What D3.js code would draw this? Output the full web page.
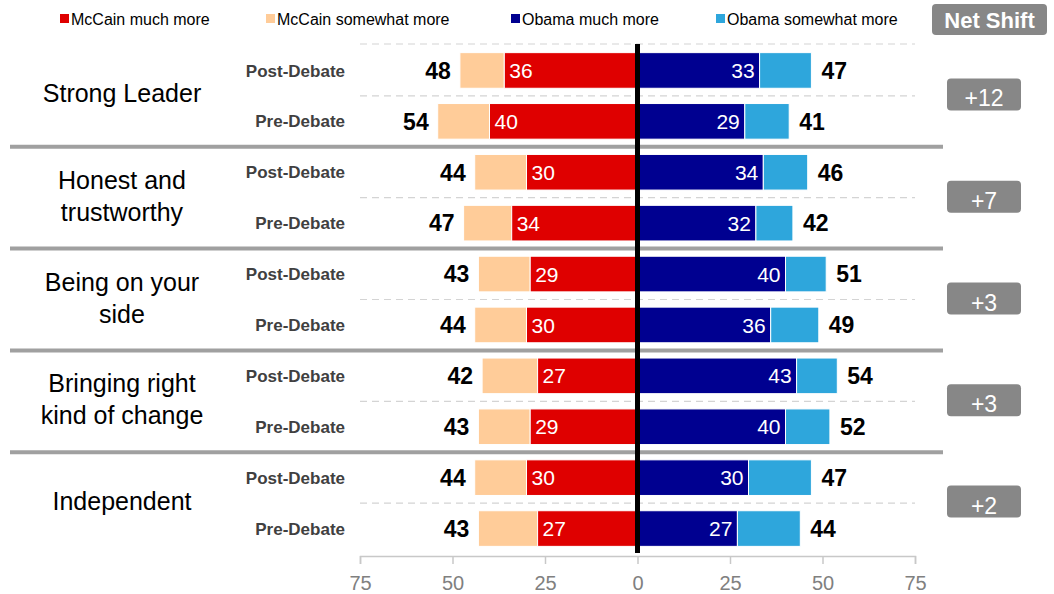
<!DOCTYPE html>
<html>
<head>
<meta charset="utf-8">
<script src="https://cdn.jsdelivr.net/npm/d3@7"></script>
<style>
    body { margin: 0; background: #fff; }
    svg { display: block; font-family: "Liberation Sans", Arial, sans-serif; }
</style>
</head>
<body>
<div id="container"></div>
<script>
// chart data
const categories = [
    ['Strong Leader'],
    ['Honest and', 'trustworthy'],
    ['Being on your', 'side'],
    ['Bringing right', 'kind of change'],
    ['Independent']
];
const periods = ['Post-Debate', 'Pre-Debate'];
const mccainMuch = [[36, 40], [30, 34], [29, 30], [27, 29], [30, 27]];
const mccainTotal = [[48, 54], [44, 47], [43, 44], [42, 43], [44, 43]];
const obamaMuch = [[33, 29], [34, 32], [40, 36], [43, 40], [30, 27]];
const obamaTotal = [[47, 41], [46, 42], [51, 49], [54, 52], [47, 44]];
const netShift = ['+12', '+7', '+3', '+3', '+2'];
const tickValues = [-75, -50, -25, 0, 25, 50, 75];
const legendLabels = ['McCain much more', 'McCain somewhat more', 'Obama much more', 'Obama somewhat more'];

const colors = {
    mccainMuch: '#df0000',
    mccainSome: '#ffcc99',
    obamaMuch: '#000090',
    obamaSome: '#2ea6dc'
};
const legendColors = [colors.mccainMuch, colors.mccainSome, colors.obamaMuch, colors.obamaSome];

const width = 1054;
const height = 594;

const svg = d3.select('#container').append('svg')
    .attr('width', width)
    .attr('height', height);

// flatten the rows
const rows = [];
categories.forEach((c, g) => {
    periods.forEach((p, j) => {
        rows.push({
            key: g + '-' + j,
            group: g,
            period: p,
            mMuch: mccainMuch[g][j],
            mTotal: mccainTotal[g][j],
            oMuch: obamaMuch[g][j],
            oTotal: obamaTotal[g][j]
        });
    });
});

const x = d3.scaleLinear().domain([-75, 75]).range([360, 915]);
const y = d3.scaleBand()
    .domain(rows.map(d => d.key))
    .range([45, 554])
    .paddingInner(0.3)
    .paddingOuter(0.15);
const bw = y.bandwidth();

// group boundaries
function groupTop(g) {
    return g === 0 ? 44 : (y((g - 1) + '-1') + bw + y(g + '-0')) / 2;
}
function groupBottom(g) {
    return g === categories.length - 1 ? 553 : groupTop(g + 1);
}

// dashed guides (top + between post / pre)
const dashY = [44].concat(categories.map((c, g) => (y(g + '-0') + bw + y(g + '-1')) / 2));
svg.append('g')
    .selectAll('line')
    .data(dashY)
    .enter().append('line')
    .attr('x1', x(-75))
    .attr('x2', x(75))
    .attr('y1', d => d)
    .attr('y2', d => d)
    .attr('stroke', '#d4d4d4')
    .attr('stroke-width', 1.2)
    .attr('stroke-dasharray', '7,5');

// thick separators
svg.append('g')
    .selectAll('line')
    .data(d3.range(1, categories.length))
    .enter().append('line')
    .attr('x1', 10)
    .attr('x2', 943)
    .attr('y1', g => groupTop(g))
    .attr('y2', g => groupTop(g))
    .attr('stroke', '#a0a0a0')
    .attr('stroke-width', 4);

// bars
const bars = svg.append('g');
function addBars(cls, x0, x1, fill) {
    bars.selectAll('rect.' + cls)
        .data(rows)
        .enter().append('rect')
        .attr('class', cls)
        .attr('x', d => Math.min(x(x0(d)), x(x1(d))))
        .attr('width', d => Math.abs(x(x1(d)) - x(x0(d))))
        .attr('y', d => y(d.key))
        .attr('height', bw)
        .attr('fill', fill)
        .attr('stroke', '#fff')
        .attr('stroke-width', 1);
}
addBars('ms', d => -d.mTotal, d => -d.mMuch, colors.mccainSome);
addBars('mm', d => -d.mMuch, d => 0, colors.mccainMuch);
addBars('om', d => 0, d => d.oMuch, colors.obamaMuch);
addBars('os', d => d.oMuch, d => d.oTotal, colors.obamaSome);

// values inside bars
const labels = svg.append('g').attr('font-size', 21);
labels.selectAll('text.mm')
    .data(rows)
    .enter().append('text')
    .attr('x', d => x(-d.mMuch) + 5)
    .attr('y', d => y(d.key) + bw / 2)
    .attr('dy', '0.36em')
    .attr('fill', '#fff')
    .text(d => d.mMuch);
labels.selectAll('text.om')
    .data(rows)
    .enter().append('text')
    .attr('x', d => x(d.oMuch) - 5)
    .attr('y', d => y(d.key) + bw / 2)
    .attr('dy', '0.36em')
    .attr('text-anchor', 'end')
    .attr('fill', '#fff')
    .text(d => d.oMuch);

// totals
const totals = svg.append('g').attr('font-size', 23).attr('font-weight', 'bold');
totals.selectAll('text.mt')
    .data(rows)
    .enter().append('text')
    .attr('x', d => x(-d.mTotal) - 9)
    .attr('y', d => y(d.key) + bw / 2)
    .attr('dy', '0.36em')
    .attr('text-anchor', 'end')
    .attr('fill', '#000')
    .text(d => d.mTotal);
totals.selectAll('text.ot')
    .data(rows)
    .enter().append('text')
    .attr('x', d => x(d.oTotal) + 10)
    .attr('y', d => y(d.key) + bw / 2)
    .attr('dy', '0.36em')
    .attr('fill', '#000')
    .text(d => d.oTotal);

// center line
svg.append('line')
    .attr('x1', x(0))
    .attr('x2', x(0))
    .attr('y1', 44)
    .attr('y2', 553)
    .attr('stroke', '#000')
    .attr('stroke-width', 5);

// period labels
svg.append('g')
    .selectAll('text')
    .data(rows)
    .enter().append('text')
    .attr('x', 345)
    .attr('y', d => y(d.key) + bw / 2)
    .attr('dy', '0.36em')
    .attr('text-anchor', 'end')
    .attr('font-size', 17)
    .attr('font-weight', 'bold')
    .attr('fill', '#404040')
    .text(d => d.period);

// category labels
const cat = svg.append('g')
    .selectAll('text')
    .data(categories)
    .enter().append('text')
    .attr('text-anchor', 'middle')
    .attr('font-size', 25)
    .attr('fill', '#000');
cat.each(function (lines, g) {
    const cy = (groupTop(g) + groupBottom(g)) / 2 - 2;
    const lh = 32;
    lines.forEach((t, i) => {
        d3.select(this).append('tspan')
            .attr('x', 122)
            .attr('y', cy + (i - (lines.length - 1) / 2) * lh)
            .attr('dy', '0.36em')
            .text(t);
    });
});

// net shift boxes
const shift = svg.append('g')
    .selectAll('g')
    .data(netShift)
    .enter().append('g')
    .attr('transform', (d, g) => `translate(947,${(groupTop(g) + groupBottom(g)) / 2 - 17})`);
shift.append('rect')
    .attr('width', 74)
    .attr('height', 32)
    .attr('rx', 4)
    .attr('fill', '#878787');
shift.append('text')
    .attr('x', 37)
    .attr('y', 28)
    .attr('text-anchor', 'middle')
    .attr('font-size', 23)
    .attr('fill', '#fff')
    .text(d => d);

// net shift header
const head = svg.append('g').attr('transform', 'translate(932,4)');
head.append('rect')
    .attr('width', 115)
    .attr('height', 31)
    .attr('rx', 4)
    .attr('fill', '#878787');
head.append('text')
    .attr('x', 57.5)
    .attr('y', 24)
    .attr('text-anchor', 'middle')
    .attr('font-size', 22)
    .attr('font-weight', 'bold')
    .attr('fill', '#fff')
    .text('Net Shift');

// legend
const legendX = [60, 266, 511, 716];
const legend = svg.append('g')
    .selectAll('g')
    .data(legendLabels)
    .enter().append('g')
    .attr('transform', (d, i) => `translate(${legendX[i]},19)`);
legend.append('rect')
    .attr('x', 0)
    .attr('y', -5)
    .attr('width', 9)
    .attr('height', 9)
    .attr('fill', (d, i) => legendColors[i]);
legend.append('text')
    .attr('x', 11)
    .attr('dy', '0.36em')
    .attr('font-size', 16)
    .attr('fill', '#000')
    .text(d => d);

// bottom axis
const axis = svg.append('g')
    .attr('transform', 'translate(0,556)')
    .call(d3.axisBottom(x)
        .tickValues(tickValues)
        .tickSize(8)
        .tickPadding(12)
        .tickFormat(d => Math.abs(d)));
axis.select('.domain').attr('stroke', '#c8c8c8').attr('stroke-width', 1.5);
axis.selectAll('.tick line').attr('stroke', '#c8c8c8').attr('stroke-width', 1.5);
axis.selectAll('.tick text')
    .attr('font-size', 20)
    .attr('font-family', '"Liberation Sans", Arial, sans-serif')
    .attr('fill', '#808080');
</script>
</body>
</html>
